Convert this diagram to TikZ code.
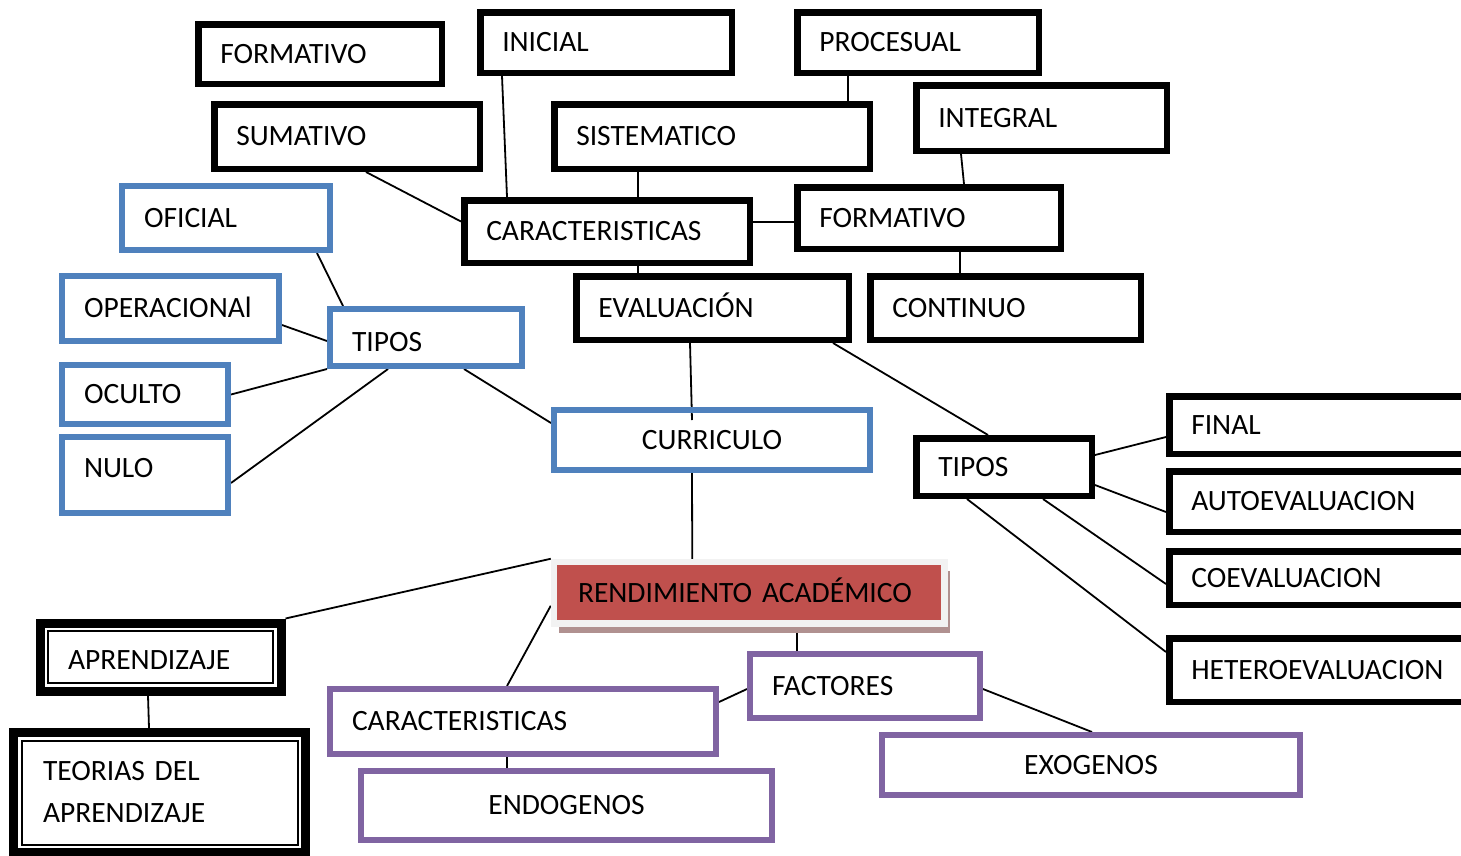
\documentclass[tikz,border=0pt]{standalone}
\usepackage{fontspec}
\setmainfont{Carlito}
\usetikzlibrary{shadows,backgrounds,calc}
\definecolor{azulc}{HTML}{4F81BD}
\definecolor{moradoc}{HTML}{8064A2}
\definecolor{rojoc}{HTML}{C0504D}
\definecolor{grisc}{HTML}{F2F2F2}
\definecolor{sombrac}{HTML}{B09190}
\begin{document}
\begin{tikzpicture}[x=1pt,y=-1pt,
    font=\fontsize{29.5}{42}\selectfont,
    caja/.style={draw=black, line width=6.5pt, inner xsep=22pt, inner ysep=0pt,
      align=left, text height=18.6pt, text depth=0pt},
    azul/.style={caja, draw=azulc, line width=6pt},
    morado/.style={caja, draw=moradoc, line width=6pt},
    doble/.style={caja, line width=9pt, inner xsep=28pt},
    rendim/.style={caja, draw=grisc, fill=rojoc, inner xsep=24pt,
      drop shadow={shadow xshift=5pt, shadow yshift=-9pt, fill=sombrac, opacity=1}},
    linea/.style={draw=black, line width=1.8pt}]
  \useasboundingbox (0,0) rectangle (1461,855);

  % evaluacion
  \node[caja, text width=199.5pt, minimum height=59.5pt] (formA) at (320,54) {FORMATIVO};
  \node[caja, text width=207.5pt, minimum height=60.5pt] (inicial) at (606,42.5) {INICIAL};
  \node[caja, text width=197.5pt, minimum height=60.5pt] (procesual) at (918,42.5) {PROCESUAL};
  \node[caja, text width=221.5pt, minimum height=64.5pt] (sumativo) at (347,136.5) {SUMATIVO};
  \node[caja, text width=271.5pt, minimum height=64.5pt] (sistematico) at (712,136.5) {SISTEMATICO};
  \node[caja, text width=206.5pt, minimum height=65.5pt] (integral) at (1041.5,118) {INTEGRAL};
  \node[caja, text width=241.5pt, minimum height=62.5pt] (caractA) at (607,231.5) {CARACTERISTICAS};
  \node[caja, text width=219.5pt, minimum height=61.5pt] (formB) at (929,218) {FORMATIVO};
  \node[caja, text width=228.5pt, minimum height=63.5pt] (evaluacion) at (712.5,308) {EVALUACIÓN};
  \node[caja, text width=226.5pt, minimum height=63.5pt] (continuo) at (1005.5,308) {CONTINUO};
  \node[caja, text width=131.5pt, minimum height=57.5pt] (tiposB) at (1004,467) {TIPOS};
  \node[caja, text width=263.5pt, minimum height=57.5pt] (final) at (1323,425) {FINAL};
  \node[caja, text width=263.5pt, minimum height=60.5pt] (auto) at (1323,501.5) {AUTOEVALUACION};
  \node[caja, text width=263.5pt, minimum height=53.5pt] (coeval) at (1323,578) {COEVALUACION};
  \node[caja, text width=263.5pt, minimum height=63.5pt] (hetero) at (1323,670) {HETEROEVALUACION};

  % curriculo
  \node[azul, text width=164pt, minimum height=64pt] (oficial) at (226,218) {OFICIAL};
  \node[azul, text width=173pt, minimum height=65pt] (operacional) at (170.5,308.5) {OPERACIONAl};
  \node[azul, text width=148pt, minimum height=57pt, text height=27pt] (tiposA) at (426,337.5) {TIPOS};
  \node[azul, text width=122pt, minimum height=59pt] (oculto) at (145,394.5) {OCULTO};
  \node[azul, text width=122pt, minimum height=76pt, text depth=13pt] (nulo) at (145,475) {NULO};
  \node[azul, text width=272pt, minimum height=60pt, align=center] (curriculo) at (712,440) {CURRICULO};

  % rendimiento
  \node[rendim, text width=342.5pt, minimum height=61.5pt] (rendim) at (749.25,592.75) {RENDIMIENTO ACADÉMICO};
  \node[doble, text width=185pt, minimum height=68pt, text height=25pt] (aprend) at (160.5,657) {APRENDIZAJE};
  \node[doble, text width=233pt, minimum height=120pt, text depth=42pt, inner xsep=29.5pt] (teorias) at (159.5,792.5) {TEORIAS DEL\\APRENDIZAJE};
  \draw[line width=2pt] ($(aprend.north west)+(12.5pt,-12.5pt)$) rectangle ($(aprend.south east)+(-12.5pt,12.5pt)$);
  \draw[line width=2pt] ($(teorias.north west)+(12.5pt,-12.5pt)$) rectangle ($(teorias.south east)+(-12.5pt,12.5pt)$);
  \node[morado, text width=342pt, minimum height=65pt] (caractB) at (523,721.5) {CARACTERISTICAS};
  \node[morado, text width=186pt, minimum height=64pt] (factores) at (865,686) {FACTORES};
  \node[morado, text width=374pt, minimum height=60pt, align=center] (exogenos) at (1091,765) {EXOGENOS};
  \node[morado, text width=367pt, minimum height=69pt, align=center] (endogenos) at (566.5,805.5) {ENDOGENOS};

  \begin{scope}[on background layer={linea}]
    \path[linea] ([xshift=19pt]sumativo.south) edge[linea] ([yshift=10pt]caractA.west);
    \path[linea] ([xshift=-104pt]inicial.south) edge[linea] ([xshift=-100pt]caractA.north);
    \path[linea] ([xshift=-74pt]sistematico.south) edge[linea] ([xshift=31pt]caractA.north);
    \path[linea] ([xshift=-70pt]procesual.south) edge[linea] ([xshift=136pt]sistematico.north);
    \path[linea] ([yshift=9.5pt]caractA.east) edge[linea] ([yshift=-4pt]formB.west);
    \path[linea] ([xshift=-80.5pt]integral.south) edge[linea] ([xshift=35pt]formB.north);
    \path[linea] ([xshift=31pt]formB.south) edge[linea] ([xshift=-45.5pt]continuo.north);
    \path[linea] ([xshift=31pt]caractA.south) edge[linea] ([xshift=-74.5pt]evaluacion.north);

    \path[linea] ([xshift=91pt]oficial.south) edge[linea] ([xshift=-83pt]tiposA.north);
    \path[linea] ([yshift=-16.5pt]operacional.east) edge[linea] ([yshift=-3.5pt]tiposA.west);
    \path[linea] (oculto.east) edge[linea] (tiposA.south west);
    \path[linea] ([yshift=-8pt]nulo.east) edge[linea] ([xshift=-38pt]tiposA.south);
    \path[linea] ([xshift=38pt]tiposA.south) edge[linea] ([yshift=17pt]curriculo.west);
    \path[linea] ([xshift=-22.5pt]evaluacion.south) edge[linea] ([xshift=-20pt,yshift=-13pt]curriculo.north);
    \path[linea] ([xshift=-20pt]curriculo.south) edge[linea] ([xshift=-57pt]rendim.north);

    \path[linea] ([xshift=120.5pt]evaluacion.south) edge[linea] ([xshift=-16pt]tiposB.north);
    \path[linea] ([yshift=12pt]tiposB.east) edge[linea] ([yshift=-12pt]final.west);
    \path[linea] ([yshift=-18pt]tiposB.east) edge[linea] ([yshift=-10.5pt]auto.west);
    \path[linea] ([xshift=39pt]tiposB.south) edge[linea] ([yshift=-6pt]coeval.west);
    \path[linea] ([xshift=-37pt]tiposB.south) edge[linea] ([yshift=18pt]hetero.west);

    \path[linea] (rendim.north west) edge[linea] (aprend.north east);
    \path[linea] ([yshift=-13pt]rendim.west) edge[linea] ([xshift=-16pt]caractB.north);
    \path[linea] ([xshift=47.75pt]rendim.south) edge[linea] ([xshift=-68pt]factores.north);
    \path[linea] ([yshift=-3pt]factores.west) edge[linea] ([yshift=19.5pt]caractB.east);
    \path[linea] ([yshift=-3pt]factores.east) edge[linea] ([xshift=1pt]exogenos.north);
    \path[linea] ([xshift=-16pt]caractB.south) edge[linea] ([xshift=-59.5pt]endogenos.north);
    \path[linea] ([xshift=-12.5pt]aprend.south) edge[linea] ([xshift=-10.5pt]teorias.north);
  \end{scope}
\end{tikzpicture}
\end{document}
